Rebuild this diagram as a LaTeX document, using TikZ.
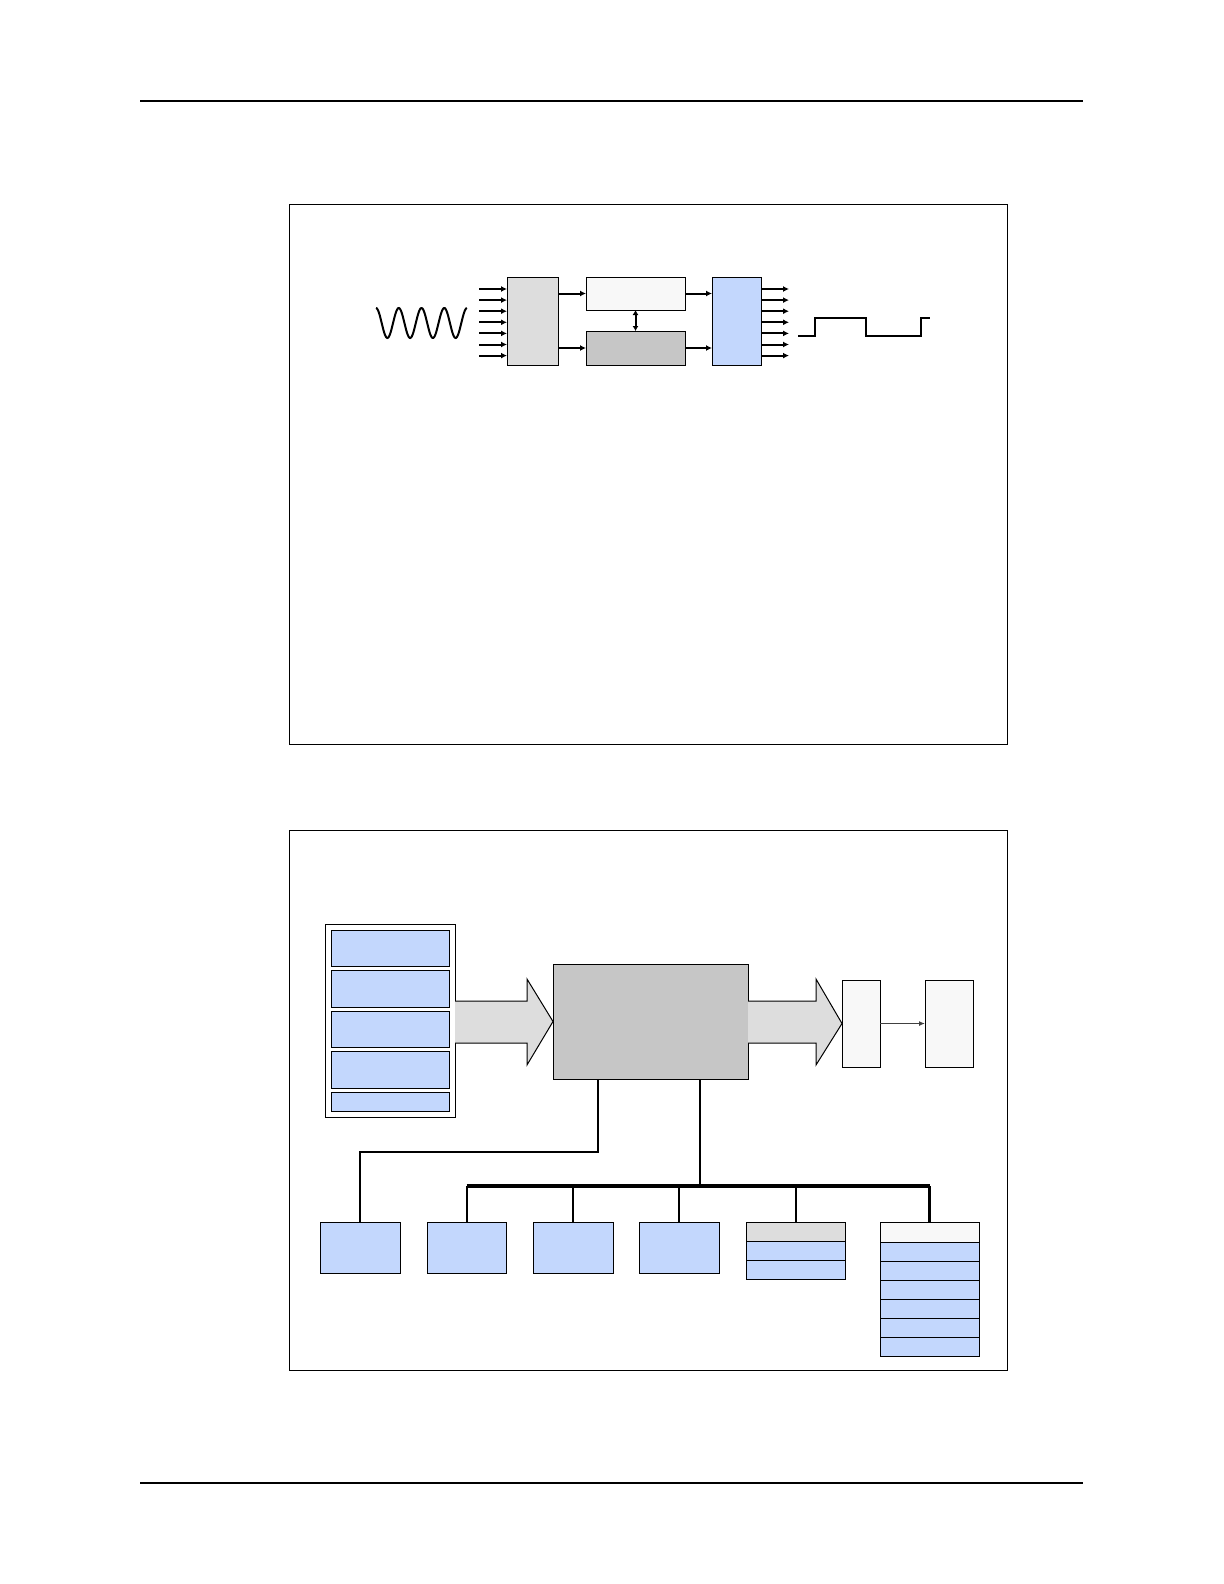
\documentclass[tikz,border=0pt]{standalone}
\usetikzlibrary{positioning,calc,arrows.meta}
\definecolor{blu}{RGB}{195,215,253}
\definecolor{gry1}{RGB}{221,221,221}
\definecolor{gry2}{RGB}{198,198,198}
\definecolor{wht}{RGB}{248,248,248}
\tikzset{
	blk/.style={draw, line width=0.5pt, inner sep=0pt, outer sep=0pt, anchor=north west},
	sig/.style={line width=1pt, -{Latex[length=3pt,width=3pt]}},
	wire/.style={line width=1pt},
	bus/.style={line width=1.6pt},
	fatarrow/.style={draw, fill=gry1, line width=0.5pt, line join=miter},
}
\begin{document}
\begin{tikzpicture}[x=0.5pt, y=-0.5pt]
			\useasboundingbox (0,0) rectangle (1224,1584);
			%%%%% PAGE RULES %%%%%
			\draw[line width=0.7pt] (140,101) -- (1083,101);
			\draw[line width=1.2pt] (140,1483) -- (1083,1483);
			
			%%%%% TOP FIGURE %%%%%
			\draw[line width=0.5pt] (289,204) rectangle (1007,744);
			
			\node[blk, fill=gry1, minimum width=25.5pt, minimum height=44pt] (adc) at (507,277) {};
			\node[blk, fill=wht, minimum width=49.5pt, minimum height=16.5pt] (mem) at (586,277) {};
			\node[blk, fill=gry2, minimum width=49.5pt, minimum height=17pt] (ctl) at (586,331) {};
			\node[blk, fill=blu, minimum width=24.5pt, minimum height=44pt] (dsp) at (712,277) {};
			
			\foreach \i in {0,...,6}{
				\coordinate (in\i) at (479,{289+11.1*\i});
				\coordinate (out\i) at (789,{289+11.1*\i});
				\draw[sig] (in\i) -- (in\i -| adc.west);
				\draw[sig] (out\i -| dsp.east) -- (out\i);
			}
			
			\draw[sig] (adc.east |- mem.west) -- (mem.west);
			\draw[sig] (adc.east |- ctl.west) -- (ctl.west);
			\draw[sig] (mem.east) -- (mem.east -| dsp.west);
			\draw[sig] (ctl.east) -- (ctl.east -| dsp.west);
			\draw[line width=1pt, {Latex[length=2.5pt,width=3pt]}-{Latex[length=2.5pt,width=3pt]}] (mem.south) -- (ctl.north);
			
			% analog in, digital out
			\draw[line width=1pt] plot[domain=0:1, samples=120, smooth] ({376+91*\x}, {323-15*cos(1440*\x)});
			\draw[line width=1pt] (798,336) -- (815,336) -- (815,318) -- (866,318) -- (866,336) -- (921,336) -- (921,318) -- (930,318);
			
			%%%%% BOTTOM FIGURE %%%%%
			\draw[line width=0.5pt] (289,830) rectangle (1007,1370);
			
			\node[blk, fill=white, minimum width=65pt, minimum height=96.5pt] (stk) at (325,924) {};
			\node[blk, fill=blu, minimum width=59pt, minimum height=18.25pt] (stk1) at (331,930) {};
			\node[blk, fill=blu, minimum width=59pt, minimum height=18.25pt, below=2pt of stk1] (stk2) {};
			\node[blk, fill=blu, minimum width=59pt, minimum height=18.25pt, below=2pt of stk2] (stk3) {};
			\node[blk, fill=blu, minimum width=59pt, minimum height=18.25pt, below=2pt of stk3] (stk4) {};
			\node[blk, fill=blu, minimum width=59pt, minimum height=9.5pt, below=2pt of stk4] (stk5) {};
			
			\node[blk, fill=gry2, minimum width=97.5pt, minimum height=57.5pt] (core) at (553,964) {};
			\node[blk, fill=wht, minimum width=19pt, minimum height=43.5pt] (bufE) at (842,980) {};
			\node[blk, fill=wht, minimum width=24pt, minimum height=43.5pt] (bufF) at (925,980) {};
			
			\draw[fatarrow] (stk.east |- 0,1001) -- (527,1001) -- (527,979) -- (core.west) -- (527,1065) -- (527,1043) -- (stk.east |- 0,1043);
			\draw[fatarrow] (core.east |- 0,1001) -- (816,1001) -- (816,979) -- (bufE.west) -- (816,1065) -- (816,1043) -- (core.east |- 0,1043);
			\draw[line width=0.6pt, black!75, -{Latex[length=3pt,width=2.5pt]}] (bufE.east) -- (bufF.west);
			
			\node[blk, fill=blu, minimum width=40pt, minimum height=25.5pt] (io1) at (320,1222) {};
			\node[blk, fill=blu, minimum width=39.5pt, minimum height=25.5pt] (io2) at (427,1222) {};
			\node[blk, fill=blu, minimum width=40pt, minimum height=25.5pt] (io3) at (533,1222) {};
			\node[blk, fill=blu, minimum width=40pt, minimum height=25.5pt] (io4) at (639,1222) {};
			
			\node[blk, fill=gry1, minimum width=49.5pt, minimum height=9.5pt] (reg5) at (746,1222) {};
			\node[blk, fill=blu, minimum width=49.5pt, minimum height=9.5pt, below=0pt of reg5] (reg5a) {};
			\node[blk, fill=blu, minimum width=49.5pt, minimum height=9.5pt, below=0pt of reg5a] (reg5b) {};
			
			\node[blk, fill=wht, minimum width=49.5pt, minimum height=10pt] (reg6) at (880,1222) {};
			\foreach \r [remember=\r as \p (initially 0)] in {1,...,6}{
				\ifnum\r=1
					\node[blk, fill=blu, minimum width=49.5pt, minimum height=9.5pt, below=0pt of reg6] (reg6r\r) {};
				\else
					\node[blk, fill=blu, minimum width=49.5pt, minimum height=9.5pt, below=0pt of reg6r\p] (reg6r\r) {};
				\fi
			}
			
			\draw[wire] (core.south -| 598,0) -- (598,1152) -| (io1.north);
			\draw[wire] (core.south -| 700,0) -- (700,1186);
			\draw[bus] (io2.north |- 0,1186) -- (reg6.north |- 0,1186);
			\draw[wire] (io2.north |- 0,1186) -- (io2.north);
			\draw[line width=0.7pt] (io3.north |- 0,1186) -- (io3.north);
			\draw[line width=0.7pt] (io4.north |- 0,1186) -- (io4.north);
			\draw[wire] (reg5.north |- 0,1186) -- (reg5.north);
			\draw[bus] (reg6.north |- 0,1186) -- (reg6.north);
			
		\end{tikzpicture}
\end{document}
